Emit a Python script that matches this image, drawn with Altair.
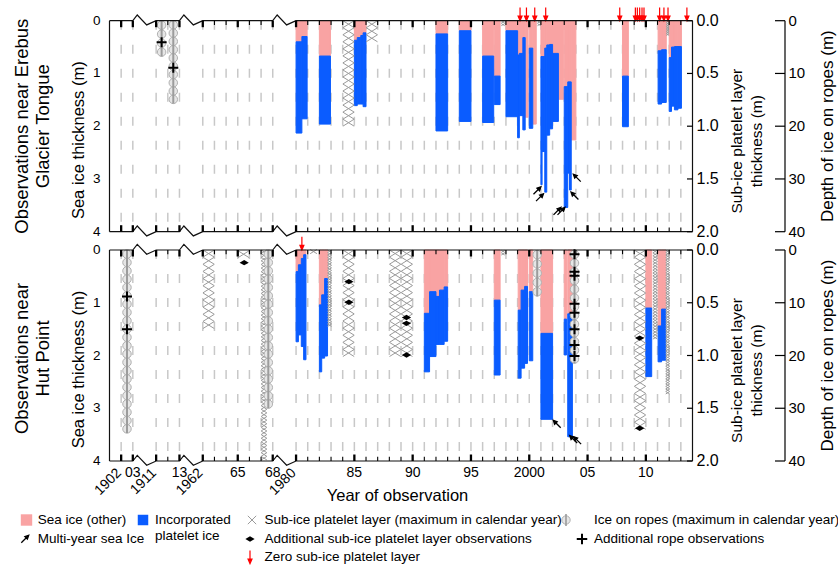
import altair as alt
import pandas as pd

# ---------------- data ----------------
# Sea-ice bars, Erebus Glacier Tongue: start / end (decimal year), non-platelet ice depth (m), total thickness (m)
egt_bar_start = [1980.0, 1980.5, 1982.0, 1985.0, 1985.25, 1985.55, 1985.75, 1992.0, 1994.0, 1996.0, 1997.0, 1998.0,
                 1999.0, 1999.15, 1999.45, 1999.65, 2000.0, 2000.3, 2001.0, 2001.1, 2001.33, 2001.5, 2001.75,
                 2002.0, 2002.5, 2003.0, 2003.3, 2003.45, 2003.6, 2008.0, 2011.05, 2011.35,
                 2012.0, 2012.2, 2012.45, 2012.75]
egt_bar_end = [1980.5, 1980.95, 1982.95, 1985.25, 1985.55, 1985.75, 1986.0, 1993.0, 1995.0, 1996.95, 1997.5, 1999.0,
               1999.15, 1999.45, 1999.65, 1999.9, 2000.3, 2000.6, 2001.1, 2001.33, 2001.5, 2001.75, 2002.0,
               2002.5, 2002.95, 2003.3, 2003.45, 2003.6, 2004.0, 2008.5, 2011.35, 2011.75,
               2012.2, 2012.45, 2012.75, 2013.05]
egt_other = [0.40, 0.30, 0.67, 0.37, 0.32, 0.28, 0.23, 0.25, 0.19, 0.67, 1.05, 0.19,
             0.65, 0.62, 0.32, 1.83, 0.52, 1.96, 0.68, 0.68, 0.52, 0.46, 0.45,
             0.62, 1.49, 1.25, 1.16, 1.16, 2.26, 1.05, 0.57, 0.55,
             0.70, 0.50, 0.49, 0.49]
egt_total = [2.13, 1.86, 1.96, 1.61, 1.58, 1.58, 1.63, 2.09, 1.91, 1.93, 1.59, 1.82,
             2.22, 1.80, 2.07, 1.83, 2.04, 1.96, 3.11, 2.48, 3.25, 2.17, 2.05,
             1.91, 1.49, 3.54, 2.89, 3.21, 2.26, 2.01, 1.58, 1.55,
             1.72, 1.62, 1.69, 1.66]

# Sea-ice bars, Hut Point
hp_bar_start = [1980.0, 1980.2, 1980.45, 1980.65, 1982.0, 1982.2, 1982.45, 1991.0, 1991.45, 1992.0, 1992.3, 1992.7,
                1997.0, 1999.05, 1999.3, 1999.6, 2000.0, 2001.0, 2003.0, 2003.3, 2010.0, 2011.05, 2011.35]
hp_bar_end = [1980.2, 1980.45, 1980.65, 1980.85, 1982.2, 1982.45, 1982.7, 1991.45, 1992.0, 1992.3, 1992.7, 1993.0,
              1997.5, 1999.3, 1999.6, 1999.85, 2000.3, 2002.0, 2003.2, 2003.7, 2010.5, 2011.35, 2011.7]
hp_other = [0.41, 0.28, 0.16, 0.09, 1.04, 0.85, 0.54, 1.20, 0.79, 0.88, 0.76, 0.70,
            0.95, 1.14, 0.76, 0.69, 0.79, 1.58, 1.31, 1.21, 1.10, 1.44, 1.12]
hp_total = [1.74, 1.61, 1.83, 2.08, 2.31, 2.05, 2.01, 2.31, 2.02, 1.79, 1.79, 1.73,
            2.37, 2.43, 2.24, 2.15, 2.10, 3.21, 1.99, 3.54, 2.40, 2.12, 2.09]

# Sub-ice platelet layer (maximum in calendar year): start, end, thickness (m)
egt_plt_start = [1984.0, 1986.0, 1997.6, 2000.7, 2011.75]
egt_plt_end = [1985.0, 1987.0, 1997.9, 2001.0, 2012.0]
egt_plt_thick = [1.00, 0.20, 0.05, 0.05, 0.14]
hp_plt_start = [1962.0, 1965.0, 1967.0, 1981.2, 1982.7, 1984.0, 1988.0, 1997.6, 2009.0, 2010.6, 2011.7]
hp_plt_end = [1963.0, 1966.0, 1967.5, 1981.8, 1983.05, 1985.0, 1990.0, 1997.9, 2010.0, 2011.0, 2012.05]
hp_plt_thick = [0.745, 0.08, 1.99, 0.03, 0.725, 1.01, 1.01, 0.05, 1.70, 0.845, 1.365]

# Additional sub-ice platelet layer observations (Hut Point)
hp_obs_year = [1965.55, 1984.53, 1984.53, 1989.47, 1989.47, 1989.47, 2009.47, 2009.47]
hp_obs_thick = [0.12, 0.30, 0.495, 0.64, 0.695, 0.995, 0.835, 1.69]

# Ice on ropes (maximum in calendar year): year, depth (m)
egt_rope_year = [1911.47, 1912.47]
egt_rope_depth = [6.8, 15.7]
hp_rope_year = [1902.5, 1967.62, 2000.68, 2003.88]
hp_rope_depth = [34.7, 30.0, 8.8, 21.5]

# Additional rope observations
egt_ropeobs_year = [1911.47, 1912.47]
egt_ropeobs_depth = [4.1, 8.9]
hp_ropeobs_year = [1902.5, 1902.5, 2003.88, 2003.88, 2003.88, 2003.88, 2003.88, 2003.88, 2003.88, 2003.88]
hp_ropeobs_depth = [8.8, 15.0, 0.8, 4.1, 4.9, 10.2, 11.9, 15.0, 18.0, 20.1]

# Zero sub-ice platelet layer
egt_zero_year = [1999.21, 1999.76, 2000.47, 2001.41, 2007.76, 2009.1, 2009.27, 2009.47, 2009.67, 2009.84,
                 2011.18, 2011.55, 2011.9, 2013.52]
hp_zero_year = [1980.5]

# Multi-year sea ice markers: year, depth (m), direction
egt_my_year = [2000.68, 2000.9, 2002.4, 2002.74, 2004.1, 2003.9]
egt_my_depth = [3.22, 3.35, 3.61, 3.61, 2.98, 3.32]
egt_my_dir = ["ne", "ne", "ne", "ne", "nw", "nw"]
hp_my_year = [2002.38, 2003.79, 2004.13]
hp_my_depth = [3.30, 3.59, 3.61]
hp_my_dir = ["nw", "nw", "nw"]

# Axis ticks / labels
tick_years = [1902, 1903, 1911, 1912, 1913] + list(range(1962, 1969)) + list(range(1980, 2014))
major_years = [1902, 1903, 1911, 1913, 1962, 1965, 1968, 1980, 1985, 1990, 1995, 2000, 2005, 2010]
major_text = ["1902", "03", "1911", "13", "1962", "65", "68", "1980", "85", "90", "95", "2000", "05", "10"]
major_rot = [True, False, True, False, True, False, False, True, False, False, False, False, False, False]
thick_ticks = [0, 1, 2, 3, 4]
platelet_ticks = [0.0, 0.5, 1.0, 1.5, 2.0]
rope_ticks = [0, 10, 20, 30, 40]

# ---------------- layout ----------------
FONT = "Liberation Sans"
PINK = "#F9A3A3"
BLUE = "#0A5CFF"
GRAY = "#9a9a9a"
LEFT, TOP = 109.5, 20.7
W = 583.0
PXM = 52.75
PANEL = 211.0
GAP = 18.3
H = 2 * PANEL + GAP
PXU = W / 50.0
YMAX = H / PXM
OFF = {"EGT": 0.0, "HP": (PANEL + GAP) / PXM}
BREAKS = [(2, 4), (6, 8), (14, 16)]


def u(year):
    if year >= 1980:
        return year - 1964
    if year >= 1962:
        return year - 1954
    if year >= 1911:
        return year - 1907
    return year - 1901


XS = alt.Scale(domain=[0, 50], nice=False, zero=False)
YS = alt.Scale(domain=[0, YMAX], nice=False, zero=False, reverse=True)


def X(f):
    return alt.X(f, type="quantitative", scale=XS, axis=None)


def Y(f):
    return alt.Y(f, type="quantitative", scale=YS, axis=None)


layers = []

# dashed year lines
dash_df = pd.DataFrame([dict(u=u(y), y0=OFF[s], y1=OFF[s] + 4) for s in OFF for y in tick_years])
layers.append(alt.Chart(dash_df).mark_rule(color="#c8c8c8", strokeWidth=1.5, strokeDash=[9, 15]).encode(
    x=X("u"), y=Y("y0"), y2="y1"))

# bars
bar_rows = []
for s, a, b, o, t in [("EGT", egt_bar_start, egt_bar_end, egt_other, egt_total),
                      ("HP", hp_bar_start, hp_bar_end, hp_other, hp_total)]:
    for s0, e0, o0, t0 in zip(a, b, o, t):
        bar_rows.append(dict(u0=u(s0), u1=u(e0), yt=OFF[s], ym=OFF[s] + o0, yb=OFF[s] + t0))
bars = pd.DataFrame(bar_rows)
blue = bars[bars.yb > bars.ym + 1e-9]
layers.append(alt.Chart(bars).mark_rect(color=PINK, stroke=PINK, strokeWidth=1.0).encode(
    x=X("u0"), x2="u1", y=Y("yt"), y2="ym"))
layers.append(alt.Chart(blue).mark_rect(color=BLUE, stroke=BLUE, strokeWidth=1.0).encode(
    x=X("u0"), x2="u1", y=Y("ym"), y2="yb"))

# platelet crosshatch
XPATH = "M-1,-0.62L1,0.62M-1,0.62L1,-0.62"
ch_rows = []
for s, a, b, t in [("EGT", egt_plt_start, egt_plt_end, egt_plt_thick),
                   ("HP", hp_plt_start, hp_plt_end, hp_plt_thick)]:
    for s0, e0, t0 in zip(a, b, t):
        w = u(e0) - u(s0)
        ncol = max(1, int(round(w)))
        cw = w / ncol
        cwp = cw * PXU
        depth = 2 * t0
        stepm = 0.62 * cwp / PXM
        nrow = max(1, int(round(depth / stepm)))
        st = depth / nrow
        for c in range(ncol):
            for r in range(nrow):
                ch_rows.append(dict(u=u(s0) + cw * (c + 0.5), y=OFF[s] + st * (r + 0.5), sz=(cwp * 0.97) ** 2))
ch = pd.DataFrame(ch_rows)
layers.append(alt.Chart(ch).mark_point(shape=XPATH, filled=False, stroke=GRAY, strokeWidth=1, opacity=1).encode(
    x=X("u"), y=Y("y"), size=alt.Size("sz:Q", scale=None, legend=None)))

# ropes
rc_rows, rl_rows = [], []
for s, yrs, dps in [("EGT", egt_rope_year, egt_rope_depth), ("HP", hp_rope_year, hp_rope_depth)]:
    for y0, d0 in zip(yrs, dps):
        d = d0 / 10.0
        stepm = 8.5 / PXM
        n = max(1, int(round(d / stepm)))
        st = d / n
        for i in range(n):
            rc_rows.append(dict(u=u(y0), y=OFF[s] + st * (i + 0.5)))
        rl_rows.append(dict(u=u(y0), y0=OFF[s], y1=OFF[s] + d))
layers.append(alt.Chart(pd.DataFrame(rc_rows)).mark_point(shape="circle", filled=True, fill="#e6e6e6",
                                                          stroke="#b0b0b0", strokeWidth=1, size=72, opacity=1).encode(
    x=X("u"), y=Y("y")))
layers.append(alt.Chart(pd.DataFrame(rl_rows)).mark_rule(color="#9c9c9c", strokeWidth=2).encode(
    x=X("u"), y=Y("y0"), y2="y1"))

# additional rope observations
PLUS = "M-1,0L1,0M0,-1L0,1"
ro = pd.DataFrame([dict(u=u(y0), y=OFF[s] + d0 / 10.0)
                   for s, yrs, dps in [("EGT", egt_ropeobs_year, egt_ropeobs_depth),
                                       ("HP", hp_ropeobs_year, hp_ropeobs_depth)]
                   for y0, d0 in zip(yrs, dps)])
layers.append(alt.Chart(ro).mark_point(shape=PLUS, filled=False, stroke="black", strokeWidth=2, size=100,
                                       opacity=1).encode(x=X("u"), y=Y("y")))

# additional platelet observations
DIAM = "M-1,0L0,-0.58L1,0L0,0.58Z"
po = pd.DataFrame([dict(u=u(y0), y=OFF["HP"] + 2 * t0) for y0, t0 in zip(hp_obs_year, hp_obs_thick)])
layers.append(alt.Chart(po).mark_point(shape=DIAM, filled=True, fill="black", size=85, opacity=1).encode(
    x=X("u"), y=Y("y")))

# multi-year arrows
ARROW_UP = "M0,1L0,-0.35M-0.34,-0.3L0,-1L0.34,-0.3Z"
my = pd.DataFrame([dict(u=u(y0), y=OFF[s] + d0, ang=45 if dr == "ne" else 315)
                   for s, yrs, dps, drs in [("EGT", egt_my_year, egt_my_depth, egt_my_dir),
                                            ("HP", hp_my_year, hp_my_depth, hp_my_dir)]
                   for y0, d0, dr in zip(yrs, dps, drs)])
layers.append(alt.Chart(my).mark_point(shape=ARROW_UP, filled=True, fill="black", stroke="black", strokeWidth=1.3,
                                       size=110, opacity=1).encode(
    x=X("u"), y=Y("y"), angle=alt.Angle("ang:Q", scale=None)))

# zero platelet arrows (above panel)
ARROW_DN = "M0,-1L0,0.35M-0.3,0.3L0,1L0.3,0.3Z"
zr = pd.DataFrame([dict(u=u(y0), y=OFF[s] - 6.6 / PXM)
                   for s, yrs in [("EGT", egt_zero_year), ("HP", hp_zero_year)] for y0 in yrs])
layers.append(alt.Chart(zr).mark_point(shape=ARROW_DN, filled=True, fill="#ff0000", stroke="#ff0000",
                                       strokeWidth=1.2, size=175, opacity=1).encode(x=X("u"), y=Y("y")))

# borders with break zigzags
bd_rows = []
for s in OFF:
    for edge in (0, 4):
        e = OFF[s] + edge
        seq = [(0, e)]
        for a, b in BREAKS:
            seq += [(a, e), (a + 0.19 * (b - a), e - 0.108), (a + 0.595 * (b - a), e + 0.08), (b, e)]
        seq.append((50, e))
        for i, (xx, yy) in enumerate(seq):
            bd_rows.append(dict(lid=f"{s}{edge}", i=i, u=xx, y=yy))
layers.append(alt.Chart(pd.DataFrame(bd_rows)).mark_line(color="#111111", strokeWidth=1.2).encode(
    x=X("u"), y=Y("y"), detail="lid:N", order="i:Q"))
side = pd.DataFrame([dict(u=xx, y0=OFF[s], y1=OFF[s] + 4) for s in OFF for xx in (0, 50)])
layers.append(alt.Chart(side).mark_rule(color="#111111", strokeWidth=1.2).encode(x=X("u"), y=Y("y0"), y2="y1"))

# x ticks (inward, top and bottom of each panel)
tk = []
for s in OFF:
    for edge, sign in ((0, 1), (4, -1)):
        e = OFF[s] + edge
        for y0 in tick_years:
            mj = y0 in major_years
            L = (6.5 if mj else 4.2) / PXM
            tk.append(dict(u=u(y0), y0=e, y1=e + sign * L, mj=mj))
tk = pd.DataFrame(tk)
layers.append(alt.Chart(tk[tk.mj]).mark_rule(color="black", strokeWidth=2.3).encode(x=X("u"), y=Y("y0"), y2="y1"))
layers.append(alt.Chart(tk[~tk.mj]).mark_rule(color="black", strokeWidth=1.1).encode(x=X("u"), y=Y("y0"), y2="y1"))

# right inward ticks (platelet axis)
rt = pd.DataFrame([dict(u0=50 - 5.5 / PXU, u1=50, y=OFF[s] + 2 * v) for s in OFF for v in platelet_ticks])
layers.append(alt.Chart(rt).mark_rule(color="black", strokeWidth=1.2).encode(x=X("u0"), x2="u1", y=Y("y")))

# left labels
ll = pd.DataFrame([dict(y=OFF[s] + v, lab=str(v)) for s in OFF for v in thick_ticks])
layers.append(alt.Chart(ll).mark_text(font=FONT, fontSize=13.5, align="right", baseline="middle").encode(
    x=alt.value(100.5 - LEFT), y=Y("y"), text="lab:N"))
# right labels
rl = pd.DataFrame([dict(y=OFF[s] + 2 * v, lab=f"{v:.1f}") for s in OFF for v in platelet_ticks])
layers.append(alt.Chart(rl).mark_text(font=FONT, fontSize=16, align="left", baseline="middle").encode(
    x=alt.value(696.5 - LEFT), y=Y("y"), text="lab:N"))
# rope depth axis
dl = pd.DataFrame([dict(y=OFF[s] + v / 10.0, lab=str(v)) for s in OFF for v in rope_ticks])
layers.append(alt.Chart(dl).mark_text(font=FONT, fontSize=15, align="left", baseline="middle").encode(
    x=alt.value(788.5 - LEFT), y=Y("y"), text="lab:N"))
layers.append(alt.Chart(dl).mark_rule(color="black", strokeWidth=1.2).encode(
    x=alt.value(775 - LEFT), x2=alt.value(785 - LEFT), y=Y("y")))
dline = pd.DataFrame([dict(y0=OFF[s], y1=OFF[s] + 4) for s in OFF])
layers.append(alt.Chart(dline).mark_rule(color="black", strokeWidth=1.2).encode(
    x=alt.value(785 - LEFT), y=Y("y0"), y2="y1"))

# x labels
xl = pd.DataFrame([dict(u=u(y0), ur=u(y0) - 2.0 / PXU, lab=t, rot=r)
                   for y0, t, r in zip(major_years, major_text, major_rot)])
layers.append(alt.Chart(xl[~xl.rot]).mark_text(font=FONT, fontSize=14, align="center", baseline="top").encode(
    x=X("u"), y=alt.value(H + 5), text="lab:N"))
layers.append(alt.Chart(xl[xl.rot]).mark_text(font=FONT, fontSize=14, align="right", baseline="middle",
                                              angle=315).encode(x=X("ur"), y=alt.value(H + 10), text="lab:N"))

one = pd.DataFrame({"k": [0]})


def txt(t, ax, ay, size, angle=0, align="center"):
    kw = dict(font=FONT, fontSize=size, align=align, baseline="middle", text=t)
    if angle:
        kw["angle"] = angle
    return alt.Chart(one).mark_text(**kw).encode(x=alt.value(ax - LEFT), y=alt.value(ay - TOP))


# titles
top_c = TOP + PANEL / 2
bot_c = TOP + PANEL + GAP + PANEL / 2
layers += [
    txt("Observations near Erebus", 21.7, top_c, 18.5, 270),
    txt("Glacier Tongue", 42.5, top_c, 18.5, 270),
    txt("Observations near", 21.7, bot_c + 3, 18.5, 270),
    txt("Hut Point", 42.5, bot_c + 3, 18.5, 270),
    txt("Sea ice thickness (m)", 79, top_c + 14, 16.5, 270),
    txt("Sea ice thickness (m)", 79, bot_c + 14, 16.5, 270),
    txt("Sub-ice platelet layer", 736.5, top_c + 15, 15.5, 270),
    txt("thickness (m)", 756.5, top_c + 15, 15.5, 270),
    txt("Sub-ice platelet layer", 736.5, bot_c + 15, 15.5, 270),
    txt("thickness (m)", 756.5, bot_c + 15, 15.5, 270),
    txt("Depth of ice on ropes (m)", 828, top_c, 17, 270),
    txt("Depth of ice on ropes (m)", 828, bot_c, 17, 270),
    txt("Year of observation", 397.5, 496, 16.5),
]


# legend
def sym(ax, ay, **kw):
    return alt.Chart(one).mark_point(opacity=1, **kw).encode(x=alt.value(ax - LEFT), y=alt.value(ay - TOP))


LFS = 13.5
layers += [
    sym(26.5, 520, shape="square", filled=True, color=PINK, size=130),
    txt("Sea ice (other)", 37.8, 520, LFS, align="left"),
    sym(143, 520, shape="square", filled=True, color=BLUE, size=110),
    txt("Incorporated", 155, 520, LFS, align="left"),
    txt("platelet ice", 155, 536, LFS, align="left"),
    sym(252, 520, shape="M-1,-1L1,1M-1,1L1,-1", filled=False, stroke=GRAY, strokeWidth=1, size=70),
    txt("Sub-ice platelet layer (maximum in calendar year)", 264.6, 520, LFS, align="left"),
    sym(566, 520, shape="circle", filled=True, fill="#e6e6e6", stroke="#b0b0b0", strokeWidth=1, size=70),
    sym(566, 520, shape="M0,-1L0,1", filled=False, stroke="#9c9c9c", strokeWidth=1.6, size=150),
    txt("Ice on ropes (maximum in calendar year)", 594, 520, LFS, align="left"),
    sym(25, 539, shape=ARROW_UP, filled=True, fill="black", stroke="black", strokeWidth=1.3, size=110, angle=45),
    txt("Multi-year sea Ice", 37.8, 539, LFS, align="left"),
    sym(250, 539, shape=DIAM, filled=True, fill="black", size=85),
    txt("Additional sub-ice platelet layer observations", 264.6, 539, LFS, align="left"),
    sym(582, 539, shape=PLUS, filled=False, stroke="black", strokeWidth=2, size=110),
    txt("Additional rope observations", 594, 539, LFS, align="left"),
    sym(250, 557, shape=ARROW_DN, filled=True, fill="#ff0000", stroke="#ff0000", strokeWidth=1.2, size=175),
    txt("Zero sub-ice platelet layer", 264.6, 557, LFS, align="left"),
]

chart = alt.layer(*layers).properties(
    width=W, height=H, autosize=alt.AutoSizeParams(type="none"),
    padding={"left": LEFT, "top": TOP, "right": 838 - LEFT - W, "bottom": 565 - TOP - H},
).configure_view(stroke=None)

chart.save("out.html", embed_options={"renderer": "svg", "actions": False})
